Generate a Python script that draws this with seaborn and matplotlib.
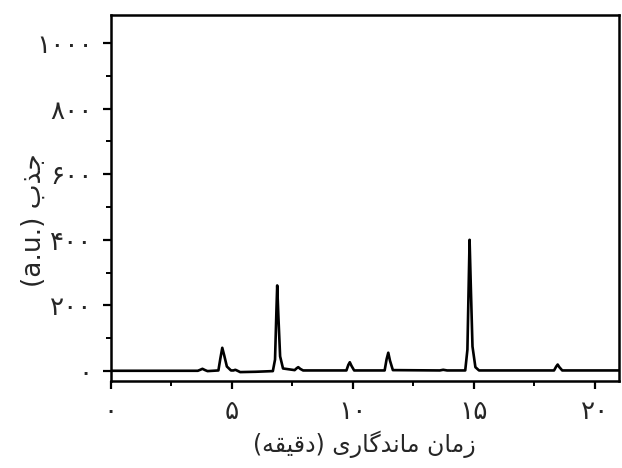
# Chromatogram (Persian labels) redrawn with seaborn

import matplotlib
matplotlib.use("Agg")
import matplotlib.pyplot as plt
from matplotlib.ticker import MultipleLocator
import seaborn as sns
import pandas as pd

# --- data ---
time_min = [0, 3.6, 3.7, 3.79, 3.9, 4.0, 4.45, 4.53, 4.61, 4.69, 4.8, 4.97,
            5.07, 5.15, 5.24, 5.35, 6.0, 6.7, 6.79, 6.85, 6.88, 6.93, 7.0, 7.12,
            7.6, 7.69, 7.75, 7.83, 7.95, 9.74, 9.82, 9.88, 9.95, 10.06,
            11.32, 11.4, 11.47, 11.54, 11.66, 13.6, 13.74, 13.9,
            14.65, 14.74, 14.8, 14.83, 14.88, 14.95, 15.07, 15.22,
            18.32, 18.41, 18.47, 18.54, 18.66, 21.0]
absorbance = [1, 1, 4, 7, 3, 0, 2, 38, 71, 48, 14, 2,
              2, 4, 1, -3, -2, 0, 35, 190, 261, 165, 45, 8,
              3, 9, 12, 7, 2, 2, 19, 27, 16, 2,
              2, 36, 56, 32, 3, 2, 4, 2,
              2, 65, 290, 400, 260, 75, 12, 2,
              2, 14, 20, 12, 2, 2]

x_ticks = [0, 5, 10, 15, 20]
x_tick_labels = ["۰", "۵", "۱۰", "۱۵", "۲۰"]
y_ticks = [0, 200, 400, 600, 800, 1000]
y_tick_labels = ["۰", "۲۰۰", "۴۰۰", "۶۰۰", "۸۰۰", "۱۰۰۰"]

# --- tiny Persian shaper (matplotlib has no RTL shaping) ---
# forms: isolated, final, initial, medial
FORMS = {
    "ا": ("\uFE8D", "\uFE8E", None, None),
    "د": ("\uFEA9", "\uFEAA", None, None),
    "ذ": ("\uFEAB", "\uFEAC", None, None),
    "ر": ("\uFEAD", "\uFEAE", None, None),
    "ز": ("\uFEAF", "\uFEB0", None, None),
    "ب": ("\uFE8F", "\uFE90", "\uFE91", "\uFE92"),
    "ج": ("\uFE9D", "\uFE9E", "\uFE9F", "\uFEA0"),
    "ق": ("\uFED5", "\uFED6", "\uFED7", "\uFED8"),
    "م": ("\uFEE1", "\uFEE2", "\uFEE3", "\uFEE4"),
    "ن": ("\uFEE5", "\uFEE6", "\uFEE7", "\uFEE8"),
    "ه": ("\uFEE9", "\uFEEA", "\uFEEB", "\uFEEC"),
    "ی": ("\uFBFC", "\uFBFD", "\uFBFE", "\uFBFF"),
    "گ": ("\uFB92", "\uFB93", "\uFB94", "\uFB95"),
}


def shape_word(word):
    out = []
    for i, ch in enumerate(word):
        forms = FORMS[ch]
        prev_joins = i > 0 and FORMS[word[i - 1]][2] is not None
        next_joins = forms[2] is not None and i < len(word) - 1
        if prev_joins and next_joins:
            out.append(forms[3])
        elif prev_joins:
            out.append(forms[1])
        elif next_joins:
            out.append(forms[2])
        else:
            out.append(forms[0])
    return "".join(reversed(out))


x_label = "(" + shape_word("دقیقه") + ") " + shape_word("ماندگاری") + " " + shape_word("زمان")
y_label = "(a.u.) " + shape_word("جذب")

df = pd.DataFrame({"time": time_min, "abs": absorbance})

sns.set_theme(style="ticks")
plt.rcParams["font.family"] = ["DejaVu Sans"]

fig = plt.figure(figsize=(6.22, 4.68), dpi=100)
ax = fig.add_axes([0.178, 0.186, 0.817, 0.782])

sns.lineplot(data=df, x="time", y="abs", color="black", linewidth=1.9, sort=False, ax=ax)

ax.set_xlim(0, 21)
ax.set_ylim(-30, 1085)
ax.set_xticks(x_ticks)
ax.set_xticklabels(x_tick_labels, fontsize=19)
ax.set_yticks(y_ticks)
ax.set_yticklabels(y_tick_labels, fontsize=19)
ax.xaxis.set_minor_locator(MultipleLocator(2.5))
ax.yaxis.set_minor_locator(MultipleLocator(100))
ax.tick_params(which="major", direction="out", length=6, width=1.6, color="black", pad=7)
ax.tick_params(which="minor", direction="out", length=3.5, width=1.4, color="black")
ax.set_xlabel(x_label, fontsize=17, labelpad=4)
ax.set_ylabel(y_label, fontsize=19)
ax.yaxis.set_label_coords(-0.125, 0.44)

for side in ["left", "right", "top", "bottom"]:
    ax.spines[side].set_visible(True)
    ax.spines[side].set_linewidth(1.8)
    ax.spines[side].set_color("black")

fig.savefig("out.png", dpi=100)
